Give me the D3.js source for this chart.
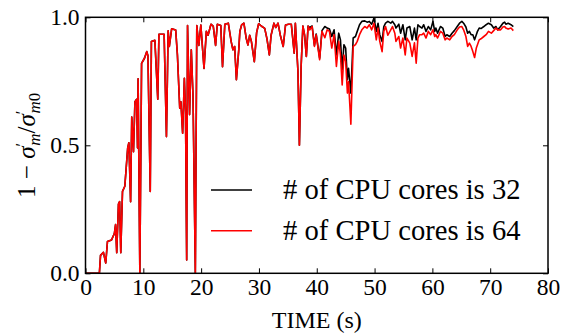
<!DOCTYPE html>
<html>
<head>
<meta charset="utf-8">
<script src="https://cdn.jsdelivr.net/npm/d3@7"></script>
<style>
  html, body { margin: 0; padding: 0; background: #fff; }
  svg text { font-family: "Liberation Serif", "Times New Roman", serif !important; }
</style>
</head>
<body>
<div id="chart"></div>
<script>
// both runs are identical up to ~38.5 s
const earlyTime = [
  0, 2.4, 2.6, 3.1, 3.5, 3.8, 4.5, 5.0, 5.2, 5.4,
  5.7, 5.9, 6.1, 6.4, 6.8, 7.3, 7.5, 7.8, 8.0, 8.3,
  8.55, 8.85, 9.0, 9.1, 9.4, 9.7, 10.2, 10.6, 10.8, 11.2,
  11.4, 12.0, 12.5, 12.7, 13.6, 14.0, 14.3, 14.5, 14.9, 15.6,
  15.9, 16.3, 16.5, 16.8, 17.1, 17.3, 17.5, 17.65, 18.0, 18.3,
  18.6, 19.0, 19.25, 19.6, 19.95, 20.5, 20.9, 21.2, 21.7, 22.1,
  22.5, 22.8, 23.4, 23.7, 24.1, 24.7, 25.2, 25.5, 25.8, 26.1,
  26.5, 26.7, 27.0, 27.4, 27.8, 28.1, 28.4, 28.7, 29.2, 29.6,
  29.95, 30.4, 31.0, 31.4, 31.8, 32.1, 32.6, 32.9, 33.3, 33.7,
  34.2, 34.6, 35.1, 35.6, 36.1, 36.3, 36.75, 37.0, 37.3, 37.6,
  37.9, 38.2, 38.5
];
const earlyValue = [
  0, 0, 0.07, 0.082, 0.04, 0.124, 0.13, 0.156, 0.19, 0.08,
  0.27, 0.28, 0.08, 0.32, 0.34, 0.49, 0.51, 0.28, 0.61, 0.475,
  0.67, 0.68, 0.49, 0.76, 0.0, 0.82, 0.84, 0.866, 0.85, 0.32,
  0.905, 0.91, 0.68, 0.934, 0.934, 0.534, 0.947, 0.886, 0.955, 0.95,
  0.853, 0.645, 0.67, 0.547, 0.762, 0.63, 0.052, 0.968, 0.62, 0.873,
  0.69, 0, 0.968, 0.89, 0.97, 0.80, 0.945, 0.93, 0.973, 0.965,
  0.89, 0.973, 0.968, 0.807, 0.973, 0.977, 0.905, 0.873, 0.886, 0.756,
  0.87, 0.945, 0.97, 0.977, 0.918, 0.892, 0.93, 0.905, 0.827, 0.94,
  0.975, 0.966, 0.957, 0.915, 0.853, 0.93, 0.977, 0.96, 0.977, 0.93,
  0.886, 0.97, 0.973, 0.973, 0.86, 0.977, 0.788, 0.50, 0.81, 0.966,
  0.93, 0.847, 0.966
];

const lateTime = [
  38.8, 39.2, 39.6, 39.9, 40.5, 40.9, 41.4, 41.8, 42.2, 42.6,
  43.0, 43.4, 43.8, 44.1, 44.4, 44.7, 45.0, 45.3, 45.5, 45.9,
  46.3, 46.7, 47.0, 47.4, 47.8, 48.3, 48.7, 49.1, 49.5, 49.9,
  50.3, 50.6, 50.9, 51.3, 51.6, 51.9, 52.3, 52.8, 53.1, 53.5,
  53.7, 54.2, 54.5, 54.9, 55.3, 55.6, 56.1, 56.5, 56.9, 57.2,
  57.5, 57.8, 58.2, 58.5, 58.9, 59.3, 59.7, 60.1, 60.4, 60.6,
  60.9, 61.4, 61.8, 62.2, 62.5, 63.0, 63.4, 63.8, 64.3, 64.7,
  65.1, 65.4, 65.8, 66.1, 66.4, 66.7, 67.0, 67.3, 67.6, 67.8,
  68.1, 68.4, 68.9, 69.3, 69.7, 70.2, 70.6, 71.0, 71.3, 71.8,
  72.2, 72.5, 72.7, 73.1, 73.6, 74.0
];
const late32 = [
  0.960, 0.966, 0.890, 0.935, 0.840, 0.948, 0.964, 0.958, 0.954, 0.925,
  0.951, 0.853, 0.938, 0.912, 0.795, 0.893, 0.880, 0.756, 0.801, 0.704,
  0.919, 0.925, 0.945, 0.971, 0.984, 0.986, 0.981, 0.984, 0.973, 0.997,
  0.945, 0.977, 0.932, 0.906, 0.964, 0.977, 0.984, 0.977, 0.984, 0.971,
  0.958, 0.973, 0.938, 0.971, 0.912, 0.958, 0.964, 0.912, 0.958, 0.912,
  0.971, 0.964, 0.958, 0.971, 0.945, 0.964, 0.951, 0.984, 0.945, 0.958,
  0.938, 0.964, 0.958, 0.925, 0.932, 0.925, 0.938, 0.948, 0.964, 0.977,
  0.984, 0.977, 0.962, 0.938, 0.945, 0.932, 0.932, 0.912, 0.932, 0.945,
  0.958, 0.956, 0.964, 0.971, 0.977, 0.971, 0.958, 0.964, 0.951, 0.964,
  0.977, 0.981, 0.973, 0.977, 0.971, 0.964
];
const late64 = [
  0.951, 0.964, 0.886, 0.932, 0.834, 0.945, 0.920, 0.951, 0.945, 0.880,
  0.932, 0.808, 0.906, 0.853, 0.736, 0.853, 0.827, 0.704, 0.749, 0.582,
  0.886, 0.893, 0.906, 0.932, 0.951, 0.964, 0.958, 0.971, 0.951, 0.977,
  0.912, 0.958, 0.906, 0.866, 0.945, 0.964, 0.930, 0.951, 0.964, 0.938,
  0.906, 0.925, 0.880, 0.919, 0.853, 0.919, 0.899, 0.847, 0.900, 0.821,
  0.919, 0.932, 0.932, 0.938, 0.919, 0.945, 0.932, 0.951, 0.925, 0.932,
  0.919, 0.945, 0.938, 0.912, 0.919, 0.912, 0.925, 0.932, 0.951, 0.962,
  0.964, 0.951, 0.925, 0.886, 0.899, 0.886, 0.866, 0.843, 0.880, 0.893,
  0.912, 0.916, 0.925, 0.932, 0.945, 0.938, 0.948, 0.958, 0.951, 0.951,
  0.962, 0.964, 0.958, 0.954, 0.958, 0.948
];

const xTicks = [0, 10, 20, 30, 40, 50, 60, 70, 80];
const yTicks = [0, 0.5, 1.0];

const series = [
  { label: "# of CPU cores is 32", color: "#000000", time: earlyTime.concat(lateTime), value: earlyValue.concat(late32) },
  { label: "# of CPU cores is 64", color: "#ff0000", time: earlyTime.concat(lateTime), value: earlyValue.concat(late64) }
];

const W = 561, H = 336;
const margin = { top: 17.3, right: 13, bottom: 62.7, left: 85.5 };
const width = W - margin.left - margin.right;
const height = H - margin.top - margin.bottom;

const svg = d3.select("#chart").append("svg")
  .attr("width", W)
  .attr("height", H);

const g = svg.append("g")
  .attr("transform", `translate(${margin.left},${margin.top})`);

const x = d3.scaleLinear().domain([0, 80]).range([0, width]);
const y = d3.scaleLinear().domain([0, 1]).range([height, 0]);

const line = d3.line()
  .x(d => x(d[0]))
  .y(d => y(d[1]));

g.append("defs").append("clipPath").attr("id", "clip")
  .append("rect").attr("width", width).attr("height", height);

series.forEach(s => {
  const pts = s.time.map((t, i) => [t, s.value[i]]);
  g.append("path")
    .datum(pts)
    .attr("clip-path", "url(#clip)")
    .attr("fill", "none")
    .attr("stroke", s.color)
    .attr("stroke-width", 1.6)
    .attr("stroke-linejoin", "round")
    .attr("d", line);
});

// axes, ticks pointing inward
const fmtY = d3.format(".1f");
const styleAxis = sel => {
  sel.attr("font-family", null);
  sel.select(".domain").remove();
  sel.selectAll("line").attr("stroke", "#000").attr("stroke-width", 1);
  sel.selectAll("text").attr("font-size", 23.5).attr("fill", "#000");
};

g.append("g")
  .attr("transform", `translate(0,${height})`)
  .call(d3.axisBottom(x).tickValues(xTicks).tickSizeInner(-5).tickSizeOuter(0).tickPadding(5))
  .call(styleAxis);

g.append("g")
  .call(d3.axisTop(x).tickValues(xTicks).tickSizeInner(-5).tickSizeOuter(0).tickFormat(""))
  .call(styleAxis);

g.append("g")
  .call(d3.axisLeft(y).tickValues(yTicks).tickSizeInner(-5).tickSizeOuter(0).tickPadding(6).tickFormat(fmtY))
  .call(styleAxis);

g.append("g")
  .attr("transform", `translate(${width},0)`)
  .call(d3.axisRight(y).tickValues(yTicks).tickSizeInner(-5).tickSizeOuter(0).tickFormat(""))
  .call(styleAxis);

g.append("rect")
  .attr("width", width)
  .attr("height", height)
  .attr("fill", "none")
  .attr("stroke", "#000")
  .attr("stroke-width", 1.5);

// x label
svg.append("text")
  .attr("x", margin.left + width / 2)
  .attr("y", 328)
  .attr("text-anchor", "middle")
  .attr("font-size", 24)
  .text("TIME (s)");

// y label: 1 − σ'_m / σ'_m0
const yl = svg.append("text")
  .attr("transform", `translate(35,${margin.top + height / 2}) rotate(-90)`)
  .attr("text-anchor", "middle")
  .attr("font-size", 25);
yl.append("tspan").text("1 \u2212 ");
yl.append("tspan").attr("font-style", "italic").text("σ");
yl.append("tspan").attr("font-size", 17).attr("dy", -8).text("\u2032");
yl.append("tspan").attr("font-size", 17).attr("font-style", "italic").attr("dx", -3).attr("dy", 13).text("m");
yl.append("tspan").attr("dy", -5).text("/");
yl.append("tspan").attr("font-style", "italic").text("σ");
yl.append("tspan").attr("font-size", 17).attr("dy", -8).text("\u2032");
yl.append("tspan").attr("font-size", 17).attr("font-style", "italic").attr("dx", -3).attr("dy", 13).text("m");
yl.append("tspan").attr("font-size", 17).text("0");

// legend
const legend = svg.append("g");
series.forEach((s, i) => {
  const ly = 190 + i * 40.7;
  legend.append("line")
    .attr("x1", 211).attr("x2", 252)
    .attr("y1", ly).attr("y2", ly)
    .attr("stroke", s.color)
    .attr("stroke-width", 1.4);
  legend.append("text")
    .attr("x", 283)
    .attr("y", ly + 9)
    .attr("font-size", 28.6)
    .text(s.label);
});
</script>
</body>
</html>
